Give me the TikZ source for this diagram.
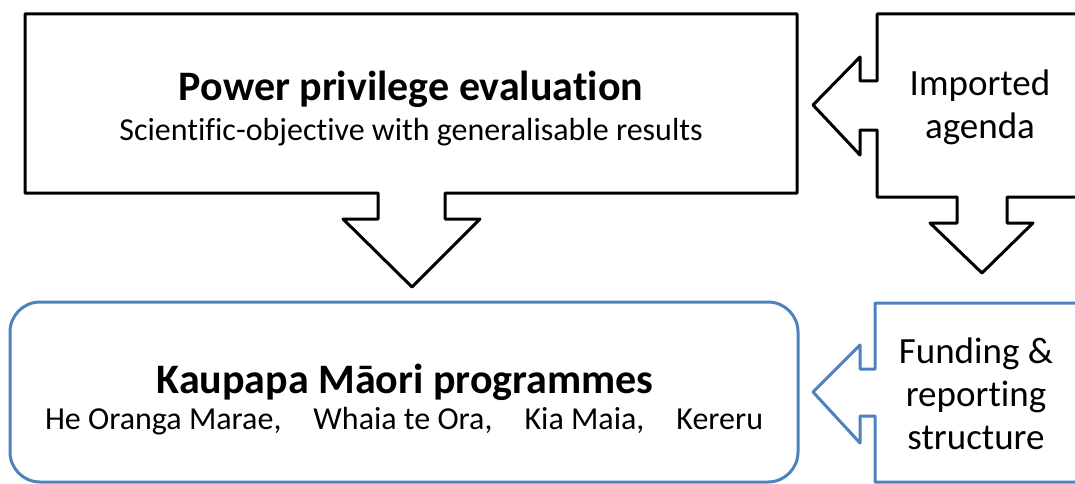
\documentclass[tikz,border=0pt]{standalone}
\usepackage{fontspec}
\setmainfont{Carlito}[Ligatures=NoCommon]
\begin{document}
\begin{tikzpicture}[x=1pt,y=-1pt,
  blk/.style={draw=black,line width=3pt,line join=round,fill=white},
  blu/.style={draw=officeblue,line width=3pt,line join=round,fill=white},
  titletext/.style={font=\fontsize{42}{48}\selectfont\bfseries,inner sep=0pt},
  subtext/.style={font=\fontsize{32}{38}\selectfont,inner sep=0pt},
  sidetext/.style={font=\fontsize{37}{43}\selectfont,align=center,inner sep=0pt}]
\definecolor{officeblue}{RGB}{79,129,189}
\useasboundingbox (0,0) rectangle (1075,484);
\clip (0,0) rectangle (1075,484);
% evaluation box with its downward arrow
\draw[blk] (25,14) -- (797,14) -- (797,193) -- (445,193) -- (445,219) -- (480,219)
  -- (412,287) -- (343,219) -- (378,219) -- (378,193) -- (25,193) -- cycle;
% imported agenda callout: arrows to the left and downward
\draw[blk] (1090,14) -- (877,14) -- (877,81) -- (860,81) -- (860,57) -- (813,105)
  -- (860,155) -- (860,130) -- (877,130) -- (877,197) -- (957,197) -- (957,223)
  -- (930,223) -- (982,273) -- (1033,223) -- (1007,223) -- (1007,197) -- (1090,197) -- cycle;
% programmes box
\draw[blu,rounded corners=30pt] (10,302) rectangle (798,482);
% funding callout: arrow to the left
\draw[blu] (1090,303) -- (875,303) -- (875,369) -- (860,369) -- (860,345) -- (813,392)
  -- (860,443) -- (860,416) -- (875,416) -- (875,482) -- (1090,482) -- cycle;
% texts
\node[titletext] (evaltitle) at (411,89) {Power privilege evaluation};
\node[subtext] (evalsub) at (411,132) {Scientific-objective with generalisable results};
\node[sidetext] (agenda) at (980,107) {Imported\\agenda};
\node[titletext] (progtitle) at (405,382) {Kaupapa Māori programmes};
\node[subtext] (proglist) at (404,421) {He Oranga Marae,\hspace{1em}Whaia te Ora,\hspace{1em}Kia Maia,\hspace{1em}Kereru};
\node[sidetext] (funding) at (976,394) {Funding \&\\reporting\\structure};
\end{tikzpicture}
\end{document}
